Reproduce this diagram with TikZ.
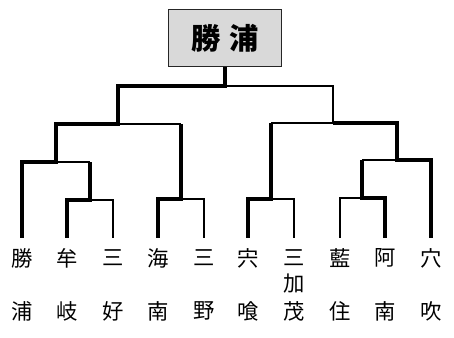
\documentclass[tikz,border=0pt]{standalone}
\usepackage{fontspec}
\newfontfamily\jp{Noto Sans CJK JP}
\begin{document}
\begin{tikzpicture}[x=0.75pt,y=0.75pt,yscale=-1,xscale=1,
  won/.style={line width=2.3pt},
  lost/.style={line width=0.8pt},
  team/.style={inner sep=0.75pt,font=\jp\fontsize{16}{17}\selectfont}]
\useasboundingbox (0,0) rectangle (454,337);

% Winner box
\node (champ) [draw=black!85,line width=1.2pt,fill=black!15,minimum width=84.5pt,minimum height=42.5pt,inner sep=0pt,font=\jp\bfseries\fontsize{22}{24}\selectfont] at (225,38) {勝\kern7pt浦};

% Leaf ends
\coordinate (katsuura) at (22,238);
\coordinate (mugi) at (67,238);
\coordinate (miyoshi) at (113,238);
\coordinate (kainan) at (158,238);
\coordinate (mino) at (204,238);
\coordinate (shishikui) at (248,238);
\coordinate (mikamo) at (294,238);
\coordinate (aizumi) at (340,238);
\coordinate (anan) at (385,238);
\coordinate (anabuki) at (431,238);

%Winning paths
\draw [won] (champ.south) -- (225,86) -- (118,86) -- (118,124) -- (56,124) -- (56,162) -- (22,162) -- (katsuura);
\draw [won] (181,124) -- (181,199) -- (158,199) -- (kainan);
\draw [won] (90,162) -- (90,200) -- (67,200) -- (mugi);
\draw [won] (333,123) -- (397,123) -- (397,160) -- (431,160) -- (anabuki);
\draw [won] (271,123) -- (271,199) -- (248,199) -- (shishikui);
\draw [won] (362,160) -- (362,198) -- (385,198) -- (anan);

%Losing paths
\draw [lost] (225,86) -- (333,86) -- (333,123) -- (271,123);
\draw [lost] (118,124) -- (181,124);
\draw [lost] (56,162) -- (90,162);
\draw [lost] (90,200) -- (113,200) -- (miyoshi);
\draw [lost] (181,199) -- (204,199) -- (mino);
\draw [lost] (271,199) -- (294,199) -- (mikamo);
\draw [lost] (397,160) -- (362,160);
\draw [lost] (362,198) -- (340,198) -- (aizumi);

% Text Node
\node (katsuura1) [team] at (22,258) {勝};
\node (katsuura2) [team] at (22,311) {浦};
% Text Node
\node (mugi1) [team] at (67,258) {牟};
\node (mugi2) [team] at (67,311) {岐};
% Text Node
\node (miyoshi1) [team] at (113,258) {三};
\node (miyoshi2) [team] at (113,311) {好};
% Text Node
\node (kainan1) [team] at (158,258) {海};
\node (kainan2) [team] at (158,311) {南};
% Text Node
\node (mino1) [team] at (204,258) {三};
\node (mino2) [team] at (204,311) {野};
% Text Node
\node (shishikui1) [team] at (248,258) {宍};
\node (shishikui2) [team] at (248,311) {喰};
% Text Node
\node (mikamo1) [team] at (294,258) {三};
\node (mikamo2) [team] at (294,284) {加};
\node (mikamo3) [team] at (294,311) {茂};
% Text Node
\node (aizumi1) [team] at (340,258) {藍};
\node (aizumi2) [team] at (340,311) {住};
% Text Node
\node (anan1) [team] at (385,258) {阿};
\node (anan2) [team] at (385,311) {南};
% Text Node
\node (anabuki1) [team] at (431,258) {穴};
\node (anabuki2) [team] at (431,311) {吹};

\end{tikzpicture}
\end{document}
